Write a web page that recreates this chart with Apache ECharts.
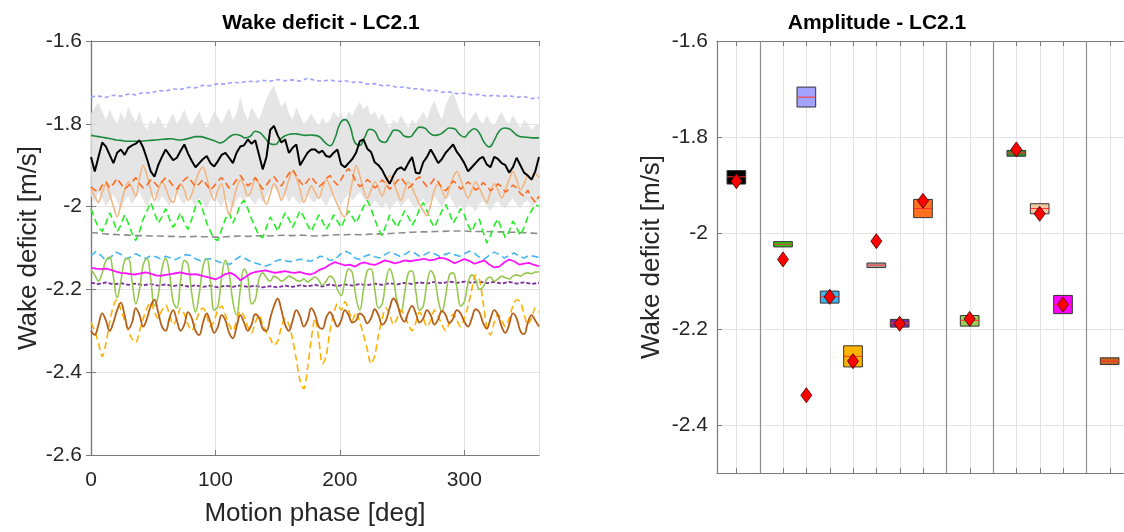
<!DOCTYPE html>
<html><head><meta charset="utf-8">
<script src="https://cdn.jsdelivr.net/npm/echarts@6/dist/echarts.min.js"></script>
<style>html,body{margin:0;padding:0;background:#fff}#c{width:1124px;height:532px}</style>
</head><body><div id="c"></div>
<script>
// ---------------- LEFT PANEL DATA (wake deficit vs motion phase, values in m/s) ----------------
// series sampled evenly over 0..360 deg (n points -> step 360/(n-1))
const bandUpper = [
-1.775,-1.760,-1.748,-1.770,-1.790,-1.765,-1.785,-1.800,-1.772,-1.790,
-1.758,-1.780,-1.795,-1.770,-1.800,-1.815,-1.790,-1.805,-1.780,-1.800,
-1.812,-1.790,-1.775,-1.800,-1.785,-1.765,-1.790,-1.805,-1.785,-1.770,
-1.795,-1.810,-1.790,-1.770,-1.785,-1.800,-1.780,-1.760,-1.790,-1.775,
-1.735,-1.770,-1.790,-1.760,-1.775,-1.790,-1.765,-1.740,-1.720,-1.708,
-1.735,-1.760,-1.745,-1.775,-1.790,-1.760,-1.780,-1.800,-1.790,-1.775,
-1.790,-1.805,-1.785,-1.800,-1.790,-1.770,-1.785,-1.775,-1.790,-1.770,
-1.780,-1.760,-1.748,-1.765,-1.755,-1.780,-1.770,-1.790,-1.775,-1.795,
-1.810,-1.790,-1.800,-1.780,-1.795,-1.810,-1.790,-1.800,-1.785,-1.770,
-1.790,-1.760,-1.745,-1.770,-1.790,-1.755,-1.735,-1.722,-1.750,-1.775,
-1.790,-1.800,-1.785,-1.770,-1.790,-1.800,-1.780,-1.795,-1.805,-1.785,
-1.770,-1.790,-1.800,-1.780,-1.795,-1.810,-1.790,-1.800,-1.815,-1.805,
-1.800];
const bandLower = [
-1.975,-1.990,-1.965,-1.980,-2.000,-1.985,-1.970,-1.990,-2.005,-1.985,
-1.975,-1.995,-1.980,-1.965,-1.985,-2.000,-1.980,-1.970,-1.990,-1.975,
-1.985,-2.000,-1.980,-1.965,-1.985,-1.995,-1.975,-1.985,-2.000,-1.980,
-1.990,-2.005,-1.985,-1.970,-1.990,-2.000,-1.980,-1.990,-2.005,-1.985,
-1.975,-1.990,-1.970,-1.985,-1.995,-1.980,-1.990,-1.975,-1.960,-1.950,
-1.965,-1.980,-1.970,-1.990,-1.975,-1.985,-1.995,-1.980,-1.970,-1.985,
-1.990,-1.975,-1.985,-2.000,-1.980,-1.970,-1.985,-1.995,-1.980,-1.970,
-1.985,-1.975,-1.965,-1.980,-1.990,-2.000,-1.985,-1.995,-2.005,-1.990,
-2.010,-1.995,-1.985,-2.000,-1.990,-1.980,-1.995,-2.005,-1.990,-1.980,
-1.995,-1.985,-1.975,-1.990,-2.000,-1.985,-1.975,-1.990,-2.005,-1.995,
-2.010,-1.995,-2.000,-2.012,-1.995,-1.985,-2.000,-2.010,-1.995,-1.985,
-2.000,-2.005,-1.990,-1.980,-1.995,-2.005,-1.990,-1.985,-2.000,-1.995,
-1.985];
const measured = [
-1.880,-1.915,-1.880,-1.845,-1.855,-1.875,-1.895,-1.870,-1.862,-1.875,
-1.858,-1.852,-1.848,-1.840,-1.858,-1.885,-1.915,-1.928,-1.900,-1.880,
-1.862,-1.875,-1.888,-1.882,-1.865,-1.850,-1.872,-1.890,-1.905,-1.895,
-1.885,-1.878,-1.895,-1.903,-1.890,-1.875,-1.870,-1.882,-1.895,-1.870,
-1.855,-1.852,-1.838,-1.848,-1.840,-1.875,-1.910,-1.880,-1.815,-1.805,
-1.828,-1.845,-1.838,-1.870,-1.858,-1.850,-1.900,-1.885,-1.870,-1.862,
-1.862,-1.870,-1.865,-1.878,-1.880,-1.870,-1.862,-1.898,-1.905,-1.895,
-1.885,-1.870,-1.842,-1.838,-1.860,-1.868,-1.893,-1.900,-1.912,-1.930,
-1.945,-1.925,-1.910,-1.905,-1.912,-1.895,-1.880,-1.918,-1.920,-1.893,
-1.880,-1.862,-1.878,-1.895,-1.885,-1.870,-1.860,-1.850,-1.868,-1.880,
-1.895,-1.915,-1.905,-1.895,-1.885,-1.880,-1.898,-1.905,-1.880,-1.885,
-1.895,-1.900,-1.918,-1.905,-1.882,-1.900,-1.918,-1.925,-1.935,-1.915,
-1.880];
const lavenderDash = [
-1.735,-1.733,-1.736,-1.731,-1.733,-1.728,-1.730,-1.724,-1.726,-1.720,
-1.721,-1.716,-1.717,-1.712,-1.713,-1.707,-1.708,-1.703,-1.704,-1.700,
-1.701,-1.697,-1.699,-1.695,-1.697,-1.693,-1.696,-1.694,-1.697,-1.690,
-1.695,-1.697,-1.694,-1.698,-1.696,-1.700,-1.699,-1.704,-1.703,-1.708,
-1.707,-1.712,-1.711,-1.716,-1.715,-1.720,-1.719,-1.724,-1.723,-1.727,
-1.726,-1.730,-1.729,-1.733,-1.731,-1.734,-1.732,-1.736,-1.734,-1.739,
-1.737];
const darkGreen = [
-1.828,-1.830,-1.832,-1.834,-1.836,-1.839,-1.840,-1.842,-1.842,-1.842,
-1.842,-1.841,-1.840,-1.839,-1.838,-1.837,-1.836,-1.838,-1.839,-1.837,
-1.834,-1.831,-1.831,-1.834,-1.838,-1.842,-1.846,-1.840,-1.830,-1.826,
-1.828,-1.834,-1.830,-1.818,-1.822,-1.835,-1.848,-1.850,-1.838,-1.829,
-1.825,-1.824,-1.826,-1.828,-1.827,-1.828,-1.832,-1.845,-1.853,-1.835,
-1.800,-1.790,-1.805,-1.845,-1.852,-1.832,-1.813,-1.818,-1.840,-1.845,
-1.830,-1.815,-1.818,-1.830,-1.832,-1.820,-1.808,-1.810,-1.822,-1.828,
-1.826,-1.818,-1.810,-1.812,-1.825,-1.832,-1.820,-1.812,-1.822,-1.845,
-1.856,-1.840,-1.818,-1.810,-1.812,-1.822,-1.830,-1.832,-1.833,-1.834,
-1.834];
const orangeDash = [
-1.952,-1.960,-1.965,-1.948,-1.940,-1.955,-1.945,-1.932,-1.945,-1.958,
-1.950,-1.940,-1.930,-1.945,-1.955,-1.948,-1.935,-1.942,-1.952,-1.940,
-1.930,-1.938,-1.950,-1.958,-1.945,-1.935,-1.928,-1.940,-1.952,-1.945,
-1.935,-1.948,-1.960,-1.950,-1.938,-1.930,-1.942,-1.955,-1.948,-1.935,
-1.925,-1.938,-1.950,-1.942,-1.930,-1.945,-1.958,-1.948,-1.935,-1.928,
-1.940,-1.950,-1.935,-1.920,-1.910,-1.925,-1.940,-1.950,-1.938,-1.928,
-1.940,-1.952,-1.945,-1.932,-1.925,-1.938,-1.948,-1.935,-1.918,-1.908,
-1.922,-1.940,-1.952,-1.945,-1.935,-1.942,-1.955,-1.948,-1.935,-1.945,
-1.958,-1.950,-1.938,-1.930,-1.942,-1.955,-1.948,-1.935,-1.928,-1.940,
-1.952,-1.945,-1.932,-1.940,-1.955,-1.962,-1.950,-1.938,-1.945,-1.958,
-1.950,-1.940,-1.948,-1.960,-1.955,-1.942,-1.950,-1.962,-1.955,-1.945,
-1.952,-1.965,-1.958,-1.948,-1.955,-1.968,-1.975,-1.960,-1.978,-1.990,
-1.975];
const peachLine = [
-1.955,-1.975,-1.990,-1.965,-1.945,-1.970,-2.000,-2.025,-1.995,-1.960,
-1.940,-1.955,-1.975,-1.930,-1.900,-1.925,-1.960,-1.985,-1.960,-1.940,
-1.955,-1.980,-1.990,-1.965,-1.945,-1.960,-1.985,-1.970,-1.940,-1.915,
-1.905,-1.930,-1.965,-1.985,-1.960,-1.945,-1.985,-2.020,-1.990,-1.955,
-1.935,-1.950,-1.975,-1.960,-1.930,-1.945,-1.975,-1.995,-1.970,-1.945,
-1.960,-1.985,-1.965,-1.935,-1.915,-1.930,-1.960,-1.990,-1.970,-1.950,
-1.965,-1.980,-1.955,-1.935,-1.950,-1.975,-1.995,-2.015,-2.025,-1.985,
-1.940,-1.900,-1.925,-1.960,-1.980,-1.960,-1.940,-1.955,-1.975,-1.950,
-1.925,-1.940,-1.965,-1.985,-1.960,-1.940,-1.955,-1.975,-1.995,-2.010,
-2.022,-1.995,-1.960,-1.945,-1.960,-1.980,-1.955,-1.930,-1.915,-1.935,
-1.960,-1.980,-1.960,-1.940,-1.955,-1.975,-1.990,-1.965,-1.945,-1.960,
-1.980,-1.960,-1.935,-1.915,-1.935,-1.960,-1.945,-1.925,-1.935,-1.920,
-1.930];
const greenDash = [
-2.005,-2.030,-2.050,-2.060,-2.040,-2.015,-2.035,-2.060,-2.045,-2.020,
-2.040,-2.065,-2.082,-2.060,-2.030,-2.010,-1.990,-2.015,-2.040,-2.025,
-2.005,-2.030,-2.050,-2.035,-2.015,-2.040,-2.055,-2.030,-2.000,-1.985,
-2.010,-2.040,-2.060,-2.078,-2.082,-2.055,-2.030,-2.015,-2.040,-2.020,
-1.995,-1.985,-2.005,-2.030,-2.050,-2.070,-2.075,-2.050,-2.025,-2.040,
-2.060,-2.035,-2.015,-2.030,-2.050,-2.030,-2.010,-2.025,-2.045,-2.060,
-2.040,-2.020,-2.035,-2.055,-2.040,-2.020,-2.035,-2.050,-2.030,-2.010,
-2.025,-2.040,-2.020,-2.000,-1.985,-2.005,-2.030,-2.055,-2.070,-2.045,
-2.020,-2.035,-2.050,-2.030,-2.010,-2.025,-2.045,-2.030,-2.005,-1.990,
-2.010,-2.035,-2.050,-2.030,-2.010,-1.995,-2.015,-2.040,-2.025,-2.005,
-2.020,-2.045,-2.060,-2.040,-2.030,-2.060,-2.088,-2.070,-2.045,-2.030,
-2.055,-2.075,-2.060,-2.035,-2.050,-2.070,-2.050,-2.025,-2.010,-1.995,
-2.000];
const greyDash = [
-2.063,-2.064,-2.066,-2.067,-2.068,-2.069,-2.070,-2.070,-2.071,-2.071,
-2.072,-2.072,-2.073,-2.073,-2.072,-2.073,-2.073,-2.074,-2.073,-2.072,
-2.071,-2.072,-2.071,-2.070,-2.071,-2.070,-2.069,-2.070,-2.069,-2.070,
-2.071,-2.070,-2.069,-2.068,-2.068,-2.067,-2.068,-2.067,-2.066,-2.066,
-2.065,-2.064,-2.063,-2.062,-2.061,-2.061,-2.060,-2.060,-2.059,-2.059,
-2.059,-2.060,-2.060,-2.060,-2.061,-2.061,-2.062,-2.062,-2.063,-2.064,
-2.065];
const skyDash = [
-2.119,-2.108,-2.118,-2.130,-2.122,-2.110,-2.115,-2.126,-2.122,-2.114,
-2.120,-2.126,-2.118,-2.121,-2.126,-2.120,-2.124,-2.128,-2.122,-2.116,
-2.118,-2.126,-2.131,-2.127,-2.126,-2.130,-2.135,-2.138,-2.139,-2.128,
-2.120,-2.126,-2.132,-2.136,-2.140,-2.144,-2.140,-2.132,-2.128,-2.131,
-2.133,-2.130,-2.127,-2.129,-2.132,-2.128,-2.120,-2.122,-2.130,-2.128,
-2.116,-2.108,-2.112,-2.124,-2.128,-2.120,-2.116,-2.121,-2.124,-2.116,
-2.110,-2.114,-2.120,-2.116,-2.108,-2.112,-2.120,-2.116,-2.110,-2.114,
-2.120,-2.116,-2.112,-2.116,-2.120,-2.114,-2.108,-2.112,-2.122,-2.127,
-2.118,-2.110,-2.116,-2.124,-2.118,-2.112,-2.120,-2.124,-2.118,-2.120,
-2.123];
const magentaLine = [
-2.148,-2.150,-2.151,-2.150,-2.153,-2.157,-2.160,-2.161,-2.163,-2.164,
-2.161,-2.159,-2.162,-2.166,-2.167,-2.165,-2.163,-2.161,-2.159,-2.162,
-2.164,-2.163,-2.166,-2.169,-2.172,-2.176,-2.170,-2.163,-2.160,-2.166,
-2.178,-2.170,-2.162,-2.158,-2.156,-2.154,-2.157,-2.160,-2.158,-2.156,
-2.159,-2.160,-2.158,-2.162,-2.164,-2.160,-2.152,-2.148,-2.140,-2.134,
-2.138,-2.142,-2.140,-2.145,-2.138,-2.135,-2.139,-2.141,-2.136,-2.130,
-2.133,-2.137,-2.134,-2.130,-2.132,-2.130,-2.128,-2.126,-2.130,-2.128,
-2.124,-2.125,-2.130,-2.137,-2.132,-2.127,-2.131,-2.138,-2.134,-2.130,
-2.140,-2.147,-2.145,-2.135,-2.128,-2.132,-2.140,-2.138,-2.136,-2.141,
-2.144];
const yellowGreen = [
-2.152,-2.165,-2.180,-2.160,-2.130,-2.122,-2.170,-2.220,-2.180,-2.130,
-2.125,-2.180,-2.235,-2.200,-2.140,-2.125,-2.175,-2.240,-2.215,-2.150,
-2.125,-2.160,-2.230,-2.245,-2.180,-2.130,-2.140,-2.210,-2.255,-2.210,
-2.145,-2.125,-2.180,-2.250,-2.240,-2.170,-2.130,-2.160,-2.230,-2.262,
-2.200,-2.150,-2.170,-2.235,-2.225,-2.175,-2.160,-2.172,-2.180,-2.168,
-2.172,-2.180,-2.175,-2.168,-2.172,-2.178,-2.180,-2.175,-2.182,-2.176,
-2.170,-2.178,-2.190,-2.180,-2.168,-2.175,-2.200,-2.215,-2.180,-2.150,
-2.160,-2.220,-2.250,-2.200,-2.155,-2.150,-2.200,-2.245,-2.235,-2.180,
-2.150,-2.175,-2.230,-2.255,-2.210,-2.160,-2.155,-2.205,-2.250,-2.240,
-2.185,-2.155,-2.170,-2.225,-2.255,-2.215,-2.165,-2.160,-2.195,-2.240,
-2.230,-2.185,-2.165,-2.175,-2.200,-2.195,-2.175,-2.170,-2.180,-2.175,
-2.168,-2.172,-2.175,-2.168,-2.165,-2.168,-2.162,-2.160,-2.162,-2.158,
-2.158];
const purpleDash = [
-2.184,-2.187,-2.183,-2.188,-2.185,-2.189,-2.186,-2.190,-2.187,-2.191,
-2.188,-2.192,-2.189,-2.193,-2.190,-2.194,-2.191,-2.195,-2.191,-2.194,
-2.190,-2.194,-2.191,-2.195,-2.192,-2.195,-2.191,-2.194,-2.190,-2.193,
-2.189,-2.193,-2.188,-2.192,-2.188,-2.191,-2.187,-2.190,-2.186,-2.189,
-2.185,-2.188,-2.184,-2.187,-2.183,-2.186,-2.182,-2.185,-2.181,-2.184,
-2.181,-2.184,-2.181,-2.185,-2.182,-2.186,-2.182,-2.186,-2.183,-2.187,
-2.184];
const brownLine = [
-2.300,-2.310,-2.285,-2.258,-2.275,-2.300,-2.280,-2.250,-2.232,-2.262,
-2.295,-2.280,-2.245,-2.262,-2.290,-2.270,-2.240,-2.225,-2.255,-2.290,
-2.300,-2.270,-2.250,-2.275,-2.300,-2.285,-2.255,-2.270,-2.300,-2.310,
-2.280,-2.258,-2.280,-2.305,-2.290,-2.262,-2.275,-2.305,-2.318,-2.290,
-2.262,-2.280,-2.300,-2.285,-2.260,-2.268,-2.295,-2.300,-2.270,-2.240,
-2.222,-2.250,-2.285,-2.300,-2.275,-2.250,-2.265,-2.290,-2.275,-2.245,
-2.260,-2.290,-2.295,-2.268,-2.255,-2.272,-2.290,-2.275,-2.250,-2.262,
-2.280,-2.275,-2.258,-2.265,-2.282,-2.270,-2.248,-2.262,-2.285,-2.275,
-2.245,-2.222,-2.235,-2.265,-2.278,-2.255,-2.240,-2.258,-2.280,-2.270,
-2.250,-2.262,-2.285,-2.272,-2.252,-2.262,-2.282,-2.270,-2.250,-2.258,
-2.278,-2.290,-2.270,-2.248,-2.255,-2.280,-2.295,-2.272,-2.250,-2.262,
-2.290,-2.305,-2.285,-2.258,-2.270,-2.300,-2.308,-2.280,-2.262,-2.275,
-2.290];
const amberDash = [
-2.280,-2.300,-2.330,-2.362,-2.330,-2.280,-2.240,-2.225,-2.250,-2.275,
-2.300,-2.320,-2.328,-2.300,-2.270,-2.245,-2.230,-2.255,-2.270,-2.250,
-2.238,-2.260,-2.285,-2.270,-2.245,-2.260,-2.285,-2.300,-2.280,-2.255,
-2.245,-2.265,-2.290,-2.275,-2.250,-2.240,-2.262,-2.285,-2.300,-2.275,
-2.252,-2.265,-2.290,-2.305,-2.280,-2.262,-2.285,-2.305,-2.318,-2.335,
-2.325,-2.290,-2.270,-2.285,-2.320,-2.370,-2.420,-2.440,-2.390,-2.320,
-2.270,-2.320,-2.380,-2.360,-2.300,-2.260,-2.235,-2.250,-2.230,-2.250,
-2.275,-2.255,-2.280,-2.310,-2.345,-2.380,-2.360,-2.310,-2.270,-2.245,
-2.260,-2.285,-2.270,-2.250,-2.262,-2.285,-2.300,-2.280,-2.255,-2.270,
-2.290,-2.275,-2.250,-2.265,-2.285,-2.300,-2.280,-2.260,-2.275,-2.290,
-2.270,-2.240,-2.200,-2.165,-2.175,-2.230,-2.290,-2.310,-2.280,-2.260,
-2.275,-2.290,-2.270,-2.240,-2.225,-2.230,-2.260,-2.285,-2.270,-2.245,
-2.255];

// ---------------- RIGHT PANEL DATA (amplitude boxes) ----------------
const ampPos    = [1, 3, 4, 5, 6, 7, 8, 9, 11, 13, 14, 15, 17];
const ampLow    = [-1.898, -2.029, -1.7375, -2.146, -2.279, -2.072, -2.196, -1.968, -2.194, -1.840, -1.960, -2.168, -2.274];
const ampMedian = [-1.883, -2.0235, -1.717, -2.133, -2.257, -2.067, -2.1875, -1.949, -2.182, -1.833, -1.949, -2.149, -2.267];
const ampHigh   = [-1.870, -2.018, -1.696, -2.121, -2.235, -2.0625, -2.180, -1.930, -2.172, -1.828, -1.939, -2.130, -2.260];
const ampMean   = [-1.892, -2.055, -2.338, -2.133, -2.267, -2.017, -2.189, -1.933, -2.179, -1.826, -1.960, -2.149, null];
const ampTicks  = [1, 2, 3, 4, 5, 6, 7, 8, 9, 10, 11, 12, 13, 14, 15, 16, 17];
const ampGroupSeparators = [2, 10, 12, 16];

// ---------------- STYLE ----------------
const FONT = "'Liberation Sans', Arial, Helvetica, sans-serif";
const TXT = '#262626';
const FRAME = '#7a7a7a';
const GRIDC = '#e2e2e2';
const ampColors = ['#000000', '#2ec41c', '#a3a3ff', '#3fb3ec', '#ffb400', '#b0a4a4', '#7b2d9c',
                   '#ff7020', '#9bcf55', '#2e8b2e', '#f5c7a0', '#ff00ff', '#c8641e'];
const L_XMIN = 0, L_XMAX = 360, L_YMIN = -2.6, L_YMAX = -1.6;
const R_XMIN = 0.17, R_XMAX = 17.615, R_YMIN = -2.5, R_YMAX = -1.6;
const BOX_HALF = 0.4;

function phaseGrid(n) { const step = 360 / (n - 1); const out = []; for (let i = 0; i < n; i++) out.push(i * step); return out; }
function pairs(vals) { const ph = phaseGrid(vals.length); return vals.map((v, i) => [ph[i], v]); }

const lineSpecs = [
  { vals: lavenderDash, color: '#a2a2ff', w: 1.7, dash: [4, 3], smooth: 0 },
  { vals: greyDash,     color: '#8c8c8c', w: 1.6, dash: [7, 4], smooth: 0 },
  { vals: greenDash,    color: '#22ee22', w: 1.6, dash: [7, 4], smooth: 0 },
  { vals: skyDash,      color: '#45b6ee', w: 1.6, dash: [7, 4], smooth: 0 },
  { vals: purpleDash,   color: '#7b2d9c', w: 1.8, dash: [4, 2], smooth: 0 },
  { vals: yellowGreen,  color: '#96c850', w: 1.6, dash: null, smooth: 0.4 },
  { vals: amberDash,    color: '#ffb000', w: 1.6, dash: [7, 4], smooth: 0.3 },
  { vals: brownLine,    color: '#b5601a', w: 1.8, dash: null, smooth: 0.4 },
  { vals: magentaLine,  color: '#ff14ff', w: 1.8, dash: null, smooth: 0 },
  { vals: darkGreen,    color: '#1e8a3c', w: 1.6, dash: null, smooth: 0.5 },
  { vals: peachLine,    color: '#f2b683', w: 1.6, dash: null, smooth: 0.3 },
  { vals: orangeDash,   color: '#ff6a1f', w: 1.6, dash: [7, 4], smooth: 0 },
  { vals: measured,     color: '#000000', w: 2.0, dash: null, smooth: 0 }
];

const chart = echarts.init(document.getElementById('c'), null, { renderer: 'canvas' });

const axisLabelStyle = { color: TXT, fontFamily: FONT, fontSize: 21 };
const nameStyle = { color: TXT, fontFamily: FONT, fontSize: 26 };

const series = [];
series.push({
  type: 'custom', xAxisIndex: 0, yAxisIndex: 0, z: 1, silent: true,
  data: [[0, bandLower[0]]],
  renderItem: function (params, api) {
    const ph = phaseGrid(bandUpper.length);
    const pts = [];
    for (let i = 0; i < bandUpper.length; i++) pts.push(api.coord([ph[i], bandUpper[i]]));
    for (let i = bandLower.length - 1; i >= 0; i--) pts.push(api.coord([ph[i], bandLower[i]]));
    return { type: 'polygon', shape: { points: pts }, style: { fill: '#e1e1e1', opacity: 0.85 } };
  }
});
lineSpecs.forEach(function (s, i) {
  series.push({
    type: 'line', xAxisIndex: 0, yAxisIndex: 0, data: pairs(s.vals), showSymbol: false, silent: true,
    z: 2 + i * 0.01, clip: true, smooth: s.smooth,
    lineStyle: { color: s.color, width: s.w, type: s.dash || 'solid' }
  });
});

series.push({
  type: 'custom', xAxisIndex: 2, yAxisIndex: 2, z: 1, silent: true,
  data: ampTicks.map(k => [k]),
  renderItem: function (params, api) {
    const k = api.value(0);
    const t = api.coord([k, R_YMAX]), b = api.coord([k, R_YMIN]);
    const x = Math.round(t[0]) + 0.5;
    return { type: 'group', children: [
      { type: 'line', shape: { x1: x, y1: t[1], x2: x, y2: b[1] }, style: { stroke: GRIDC, lineWidth: 1 } },
      { type: 'line', shape: { x1: x, y1: b[1], x2: x, y2: b[1] - 5 }, style: { stroke: FRAME, lineWidth: 1 } },
      { type: 'line', shape: { x1: x, y1: t[1], x2: x, y2: t[1] + 5 }, style: { stroke: FRAME, lineWidth: 1 } }
    ] };
  }
});
series.push({
  type: 'custom', xAxisIndex: 2, yAxisIndex: 2, z: 1.5, silent: true,
  data: ampGroupSeparators.map(k => [k]),
  renderItem: function (params, api) {
    const k = api.value(0);
    const t = api.coord([k, R_YMAX]), b = api.coord([k, R_YMIN]);
    const x = Math.round(t[0]) + 0.5;
    return { type: 'line', shape: { x1: x, y1: t[1], x2: x, y2: b[1] }, style: { stroke: '#8e8e8e', lineWidth: 1.2 } };
  }
});
series.push({
  type: 'custom', xAxisIndex: 2, yAxisIndex: 2, z: 3, silent: true,
  data: ampPos.map((k, i) => [k, ampLow[i], ampMedian[i], ampHigh[i]]),
  renderItem: function (params, api) {
    const k = api.value(0), lo = api.value(1), med = api.value(2), hi = api.value(3);
    const a = api.coord([k - BOX_HALF, hi]), b = api.coord([k + BOX_HALF, lo]);
    const m1 = api.coord([k - BOX_HALF, med]), m2 = api.coord([k + BOX_HALF, med]);
    return { type: 'group', children: [
      { type: 'rect', shape: { x: a[0], y: a[1], width: b[0] - a[0], height: b[1] - a[1] },
        style: { fill: ampColors[params.dataIndex], stroke: '#333333', lineWidth: 1 } },
      { type: 'line', shape: { x1: m1[0], y1: m1[1], x2: m2[0], y2: m2[1] }, style: { stroke: '#ff3030', lineWidth: 1 } }
    ] };
  }
});
series.push({
  type: 'scatter', xAxisIndex: 2, yAxisIndex: 2, z: 4, silent: true,
  data: ampPos.map((k, i) => [k, ampMean[i]]).filter(d => d[1] !== null),
  symbol: 'diamond', symbolSize: [11, 15],
  itemStyle: { color: '#ff0000', borderColor: '#3a0000', borderWidth: 0.8, opacity: 1 }
});

const option = {
  animation: false,
  backgroundColor: '#ffffff',
  title: [
    { text: 'Wake deficit - LC2.1', left: 316, top: 8, textAlign: 'center',
      textStyle: { fontFamily: FONT, fontSize: 21, fontWeight: 'bold', color: '#000' } },
    { text: 'Amplitude - LC2.1', left: 872, top: 8, textAlign: 'center',
      textStyle: { fontFamily: FONT, fontSize: 21, fontWeight: 'bold', color: '#000' } }
  ],
  grid: [
    { left: 91, top: 41, width: 448, height: 418, containLabel: false },
    { left: 717, top: 41, width: 407, height: 432, containLabel: false }
  ],
  xAxis: [
    { type: 'value', gridIndex: 0, min: L_XMIN, max: L_XMAX, interval: 100,
      name: 'Motion phase [deg]', nameLocation: 'middle', nameGap: 46, nameTextStyle: nameStyle,
      axisLine: { show: true, lineStyle: { color: FRAME, width: 1.2 } },
      axisTick: { show: true, inside: true, length: 5, lineStyle: { color: FRAME } },
      axisLabel: Object.assign({ margin: 15, showMaxLabel: false }, axisLabelStyle),
      splitLine: { show: true, lineStyle: { color: GRIDC, width: 1 } } },
    { type: 'value', gridIndex: 0, min: L_XMIN, max: L_XMAX, interval: 100, position: 'top',
      axisLine: { show: true, lineStyle: { color: FRAME, width: 1.2 } },
      axisTick: { show: true, inside: true, length: 5, lineStyle: { color: FRAME } },
      axisLabel: { show: false }, splitLine: { show: false } },
    { type: 'value', gridIndex: 1, min: R_XMIN, max: R_XMAX,
      axisLine: { show: true, lineStyle: { color: FRAME, width: 1.2 } },
      axisTick: { show: false }, axisLabel: { show: false }, splitLine: { show: false } },
    { type: 'value', gridIndex: 1, min: R_XMIN, max: R_XMAX, position: 'top',
      axisLine: { show: true, lineStyle: { color: FRAME, width: 1.2 } },
      axisTick: { show: false }, axisLabel: { show: false }, splitLine: { show: false } }
  ],
  yAxis: [
    { type: 'value', gridIndex: 0, min: L_YMIN, max: L_YMAX, interval: 0.2,
      name: 'Wake deficit [m/s]', nameLocation: 'middle', nameGap: 47, nameRotate: 90, nameTextStyle: nameStyle,
      axisLine: { show: true, lineStyle: { color: FRAME, width: 1.2 } },
      axisTick: { show: true, inside: true, length: 5, lineStyle: { color: FRAME } },
      axisLabel: Object.assign({ margin: 9 }, axisLabelStyle),
      splitLine: { show: true, lineStyle: { color: GRIDC, width: 1 } } },
    { type: 'value', gridIndex: 0, min: L_YMIN, max: L_YMAX, interval: 0.2, position: 'right',
      axisLine: { show: true, lineStyle: { color: FRAME, width: 1.2 } },
      axisTick: { show: true, inside: true, length: 5, lineStyle: { color: FRAME } },
      axisLabel: { show: false }, splitLine: { show: false } },
    { type: 'value', gridIndex: 1, min: R_YMIN, max: R_YMAX, splitNumber: 5,
      name: 'Wake deficit [m/s]', nameLocation: 'middle', nameGap: 52, nameRotate: 90, nameTextStyle: nameStyle,
      axisLine: { show: true, lineStyle: { color: FRAME, width: 1.2 } },
      axisTick: { show: true, inside: true, length: 5, lineStyle: { color: FRAME } },
      axisLabel: Object.assign({ margin: 9, showMinLabel: false }, axisLabelStyle),
      splitLine: { show: true, lineStyle: { color: GRIDC, width: 1 } } }
  ],
  series: series
};
chart.setOption(option);
</script></body></html>
